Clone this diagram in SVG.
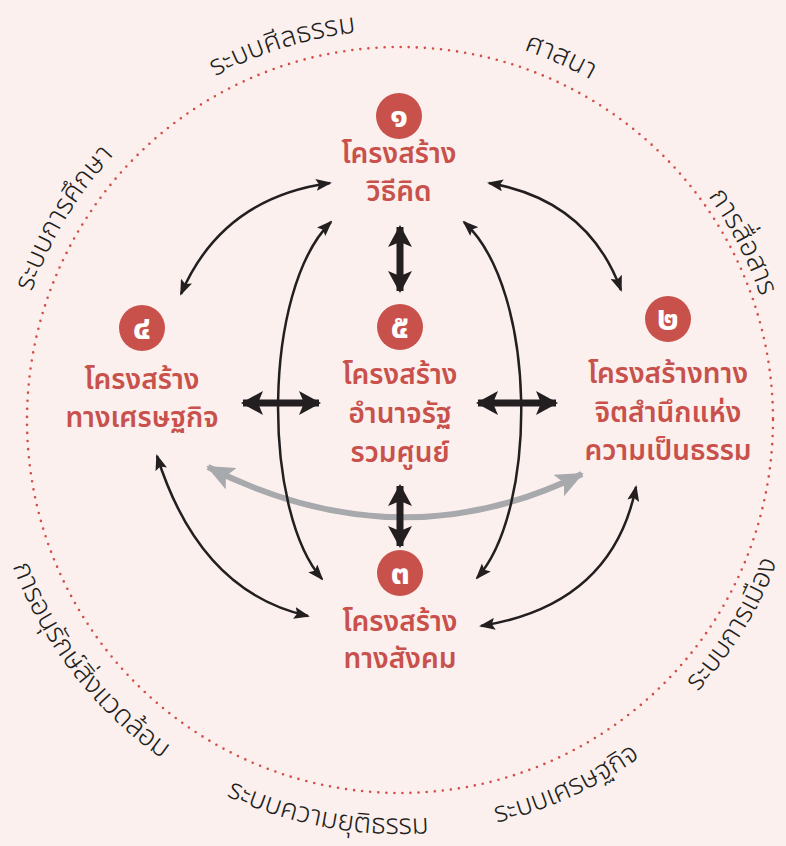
<svg xmlns="http://www.w3.org/2000/svg" xmlns:xlink="http://www.w3.org/1999/xlink" width="786" height="846" viewBox="0 0 786 846">
<style>
.bg{fill:#fbf0ee}
.ring{fill:none;stroke:#d24e48;stroke-width:2.6;stroke-linecap:round;stroke-dasharray:0 8.1}
.outer{font-family:"Noto Sans Thai","Loma","Garuda","Noto Sans","DejaVu Sans",sans-serif;font-size:28px;font-weight:300;fill:#231f20}
.lbl{font-family:"Noto Sans Thai","Loma","Garuda","Noto Sans","DejaVu Sans",sans-serif;font-size:28px;font-weight:600;fill:#c9514c;text-anchor:middle}
.num{font-family:"Noto Sans Thai","Loma","Garuda","Noto Sans","DejaVu Sans",sans-serif;font-size:34px;font-weight:bold;fill:#ffffff;text-anchor:middle}
.badge{fill:#c9514c}
.thin{fill:none;stroke:#231f20;stroke-width:2.5;marker-start:url(#ah);marker-end:url(#ah)}
.thick{fill:none;stroke:#231f20;stroke-width:7;marker-start:url(#ahb);marker-end:url(#ahb)}
.gray{fill:none;stroke:#a7a9ac;stroke-width:6;marker-start:url(#ahg);marker-end:url(#ahg)}
</style>
<defs>
<marker id="ah" markerUnits="userSpaceOnUse" viewBox="0 0 16 12" markerWidth="16" markerHeight="12" refX="14" refY="6" orient="auto-start-reverse">
<path d="M0,0 L16,6 L0,12 L3,6 z" fill="#231f20"/>
</marker>
<marker id="ahb" markerUnits="userSpaceOnUse" viewBox="0 0 22 24" markerWidth="22" markerHeight="24" refX="20" refY="12" orient="auto-start-reverse">
<path d="M0,0 L22,12 L0,24 L5,12 z" fill="#231f20"/>
</marker>
<marker id="ahg" markerUnits="userSpaceOnUse" viewBox="0 0 28 24" markerWidth="28" markerHeight="24" refX="26" refY="12" orient="auto-start-reverse">
<path d="M0,0 L28,12 L0,24 L6,12 z" fill="#a7a9ac"/>
</marker>
<path id="cw" d="M 10 420 A 390 390 0 0 1 790 420 A 390 390 0 0 1 10 420"/>
<path id="cw2" d="M 19 420 A 381 381 0 0 1 781 420 A 381 381 0 0 1 19 420"/>
<path id="ccw" d="M -14 420 A 414 414 0 0 0 814 420 A 414 414 0 0 0 -14 420"/>
<path id="ccw2" d="M -3 420 A 403 403 0 0 0 803 420 A 403 403 0 0 0 -3 420"/>
</defs>
<rect class="bg" x="0" y="0" width="786" height="846"/>
<circle class="ring" cx="400" cy="420" r="373"/>

<g id="outer-labels">
<text class="outer" text-anchor="middle"><textPath xlink:href="#cw" href="#cw" startOffset="211">ระบบการศึกษา</textPath></text>
<text class="outer" text-anchor="middle"><textPath xlink:href="#cw" href="#cw" startOffset="494">ระบบศีลธรรม</textPath></text>
<text class="outer" text-anchor="middle"><textPath xlink:href="#cw" href="#cw" startOffset="775">ศาสนา</textPath></text>
<text class="outer" text-anchor="middle"><textPath xlink:href="#cw2" href="#cw2" startOffset="1014">การสื่อสาร</textPath></text>
<text class="outer" text-anchor="middle"><textPath xlink:href="#ccw" href="#ccw" startOffset="273">การอนุรักษ์สิ่งแวดล้อม</textPath></text>
<text class="outer" text-anchor="middle"><textPath xlink:href="#ccw" href="#ccw" startOffset="575">ระบบความยุติธรรม</textPath></text>
<text class="outer" text-anchor="middle"><textPath xlink:href="#ccw" href="#ccw" startOffset="827">ระบบเศรษฐกิจ</textPath></text>
<text class="outer" text-anchor="middle"><textPath xlink:href="#ccw2" href="#ccw2" startOffset="1044">ระบบการเมือง</textPath></text>
</g>

<g id="connectors">
<path class="gray" d="M 208 467 Q 400 564 582 474"/>
<path class="thin" d="M 181 294 Q 222 198 330 183"/>
<path class="thin" d="M 489 183 Q 588 200 621 290"/>
<path class="thin" d="M 157 456 Q 200 592 308 616"/>
<path class="thin" d="M 636 487 Q 612 605 481 626"/>
<path class="thin" d="M 331 222 C 262 290 262 510 322 579"/>
<path class="thin" d="M 464 222 C 538 290 538 510 477 578"/>
<path class="thick" d="M 400 227 L 400 291"/>
<path class="thick" d="M 400 486 L 400 546"/>
<path class="thick" d="M 243 403 L 319 403"/>
<path class="thick" d="M 478 403 L 556 403"/>
</g>

<g id="node1">
<circle class="badge" cx="399" cy="116" r="23"/>
<text class="num" x="399" y="127">๑</text>
<text class="lbl" x="399" y="163">โครงสร้าง</text>
<text class="lbl" x="399" y="201">วิธีคิด</text>
</g>
<g id="node2">
<circle class="badge" cx="668" cy="319" r="23"/>
<text class="num" x="668" y="330">๒</text>
<text class="lbl" x="668" y="383">โครงสร้างทาง</text>
<text class="lbl" x="668" y="422">จิตสำนึกแห่ง</text>
<text class="lbl" x="668" y="460">ความเป็นธรรม</text>
</g>
<g id="node3">
<circle class="badge" cx="400" cy="573" r="23"/>
<text class="num" x="400" y="584">๓</text>
<text class="lbl" x="400" y="631">โครงสร้าง</text>
<text class="lbl" x="400" y="668">ทางสังคม</text>
</g>
<g id="node4">
<circle class="badge" cx="142" cy="328" r="23"/>
<text class="num" x="142" y="339">๔</text>
<text class="lbl" x="142" y="389">โครงสร้าง</text>
<text class="lbl" x="142" y="427">ทางเศรษฐกิจ</text>
</g>
<g id="node5">
<circle class="badge" cx="400" cy="327" r="23"/>
<text class="num" x="400" y="338">๕</text>
<text class="lbl" x="400" y="384">โครงสร้าง</text>
<text class="lbl" x="400" y="423">อำนาจรัฐ</text>
<text class="lbl" x="400" y="462">รวมศูนย์</text>
</g>
</svg>
